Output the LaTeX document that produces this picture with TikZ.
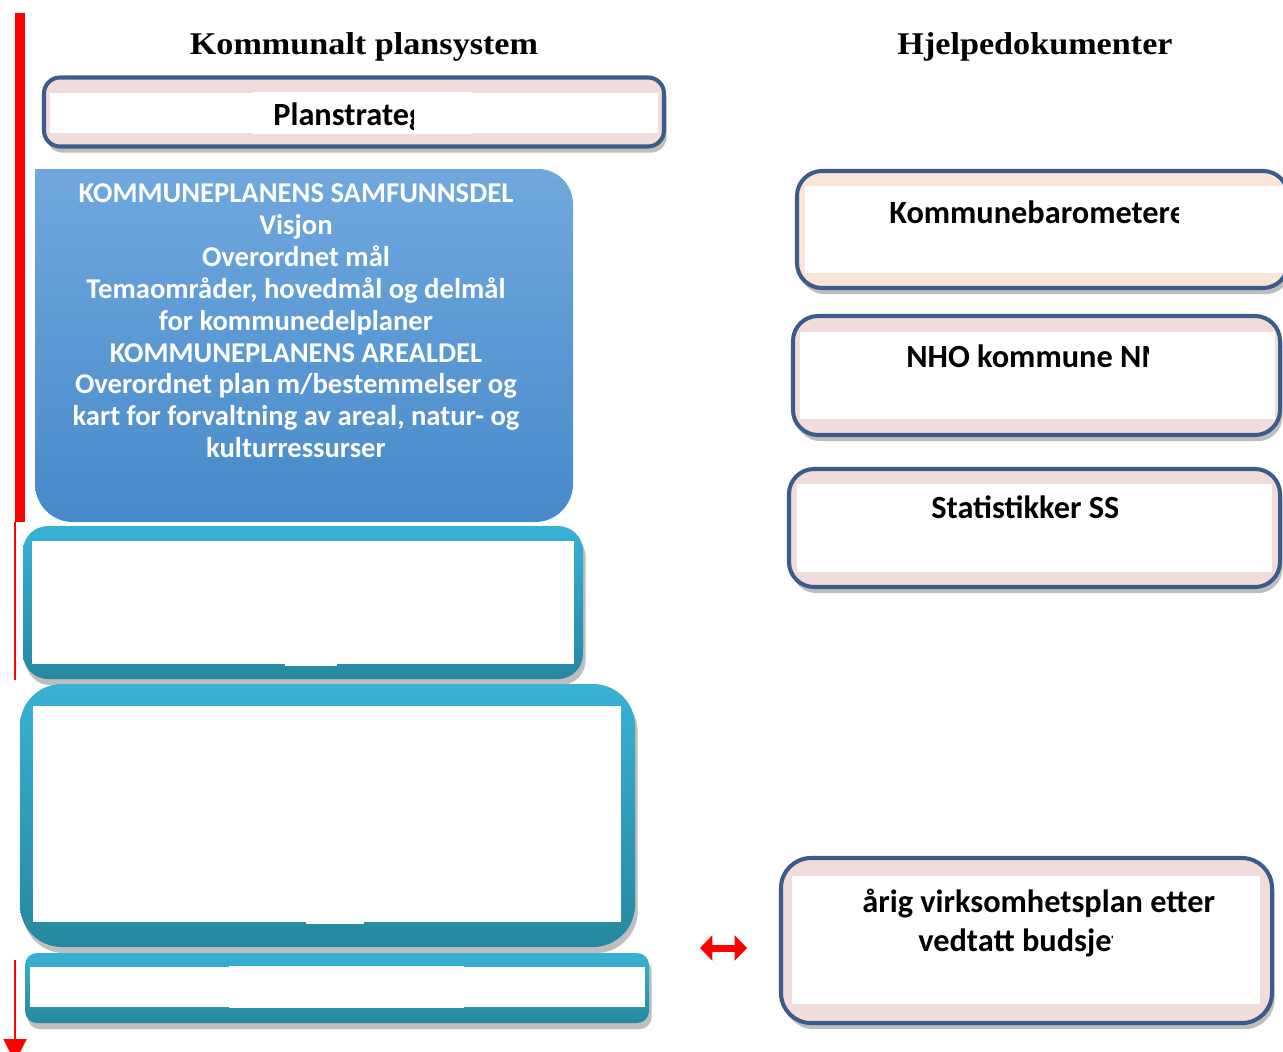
\documentclass[tikz,border=0pt]{standalone}
\usepackage{fontspec}
\newfontfamily\cfont{Carlito}
\newfontfamily\sfont{Liberation Serif}
\usetikzlibrary{shadows,arrows.meta}
\definecolor{bordblue}{RGB}{59,92,138}
\definecolor{pinkf}{RGB}{242,220,219}
\definecolor{peachf}{RGB}{251,229,214}
\definecolor{tealtop}{RGB}{56,178,214}
\definecolor{tealbot}{RGB}{38,136,160}
\definecolor{bluetop}{RGB}{112,168,222}
\definecolor{bluebot}{RGB}{70,138,202}
\definecolor{shadowgray}{RGB}{110,110,110}
\definecolor{redline}{RGB}{255,0,0}
\begin{document}
\begin{tikzpicture}[x=0.02cm,y=-0.02cm,
  shad/.style={drop shadow={shadow xshift=1.5pt,shadow yshift=-3.5pt,opacity=0.45,fill=shadowgray}},
  docbox/.style={shape=rectangle,draw=bordblue,line width=2.3pt,fill=pinkf,inner sep=0pt,outer sep=0pt,shad},
  tealbox/.style={shape=rectangle,top color=tealtop,bottom color=tealbot,draw=none,inner sep=0pt,outer sep=0pt,shad},
  whiteband/.style={fill=white},
  lbl/.style={font=\cfont\bfseries\fontsize{18.4}{22}\selectfont,inner sep=0pt,anchor=base west,text=black},
  titlelbl/.style={font=\sfont\bfseries\fontsize{18}{22}\selectfont,inner sep=0pt,anchor=base,xscale=1.08},
]
\useasboundingbox (0,0) rectangle (1283,1051);

% red time line
\fill[redline] (15,13) rectangle (25,522);
\coordinate (ra) at (15,522);
\coordinate (rb) at (15,680);
\draw[redline,line width=1.1pt] (ra) -- (rb);
\coordinate (rc) at (15,960);
\coordinate (rd) at (15,1062);
\draw[redline,line width=1.2pt,-{Triangle[width=13pt,length=13pt]}] (rc) -- (rd);

% titles
\node[titlelbl] (t1) at (364,55) {Kommunalt plansystem};
\node[titlelbl] (t2) at (1035,55) {Hjelpedokumenter};

% Planstrategi
\node[docbox,rounded corners=0.32cm,minimum width={620*0.02cm},minimum height={69*0.02cm}] (plan) at (354,112) {};
\fill[whiteband] (50,93) rectangle (658,133);
\fill[whiteband] (253,92) rectangle (472,134);
\begin{scope}
\clip (250,85) rectangle (413,140);
\node[lbl] (plantxt) at (273,125) {Planstrateg};
\end{scope}

% blue box
\shade[top color=bluetop,bottom color=bluebot] (35,169) -- (538,169) arc[start angle=-90,end angle=0,radius=35] -- (573,484) arc[start angle=0,end angle=90,radius=38] -- (73,522) arc[start angle=90,end angle=180,radius=38] -- cycle;
\node[font=\cfont\bfseries\fontsize{16.3}{18.2}\selectfont,text=white,align=center,anchor=north,inner sep=0pt] (samf) at (296,183)
 {KOMMUNEPLANENS SAMFUNNSDEL\\Visjon\\Overordnet mål\\Temaområder, hovedmål og delmål\\for kommunedelplaner\\KOMMUNEPLANENS AREALDEL\\Overordnet plan m/bestemmelser og\\kart for forvaltning av areal, natur- og\\kulturressurser};

% teal boxes
\node[tealbox,rounded corners=0.5cm,minimum width={560*0.02cm},minimum height={153*0.02cm}] (teal1) at (303,602.5) {};
\fill[whiteband] (32,541) rectangle (574,664);
\fill[whiteband] (285,662) rectangle (337,666);

\node[tealbox,rounded corners=0.84cm,minimum width={615*0.02cm},minimum height={263*0.02cm}] (teal2) at (327.5,815.5) {};
\fill[whiteband] (33,706) rectangle (621,922);
\fill[whiteband] (306,920) rectangle (364,924);

\node[tealbox,rounded corners=0.24cm,minimum width={624*0.02cm},minimum height={70*0.02cm}] (teal3) at (337,988) {};
\fill[whiteband] (30,967) rectangle (645,1007);
\fill[whiteband] (229,966) rectangle (464,1008);

% right boxes
\node[docbox,fill=peachf,rounded corners=0.5cm,minimum width={491*0.02cm},minimum height={117*0.02cm}] (kb) at (1042.5,229.5) {};
\fill[whiteband] (805,186) rectangle (1283,273);
\begin{scope}
\clip (880,190) rectangle (1178,270);
\node[lbl] (kbtxt) at (889,223) {Kommunebarometere};
\end{scope}

\node[docbox,rounded corners=0.5cm,minimum width={487*0.02cm},minimum height={119*0.02cm}] (nho) at (1036.5,375.5) {};
\fill[whiteband] (800,332) rectangle (1275,419);
\begin{scope}
\clip (890,335) rectangle (1148,415);
\node[lbl] (nhotxt) at (906,367) {NHO kommune NM};
\end{scope}

\node[docbox,rounded corners=0.5cm,minimum width={491*0.02cm},minimum height={118*0.02cm}] (stat) at (1034.5,528) {};
\fill[whiteband] (797,484) rectangle (1272,572);
\begin{scope}
\clip (900,488) rectangle (1117,568);
\node[lbl] (stattxt) at (931,518) {Statistikker SSB};
\end{scope}

\node[docbox,rounded corners=0.6cm,minimum width={491*0.02cm},minimum height={165*0.02cm}] (virk) at (1026.5,940.5) {};
\fill[whiteband] (792,876) rectangle (1260,1004);
\begin{scope}
\clip (840,878) rectangle (1250,917);
\node[lbl] (virk1) at (862,912) {årig virksomhetsplan etter};
\end{scope}
\begin{scope}
\clip (900,920) rectangle (1112,965);
\node[lbl] (virk2) at (918,951) {vedtatt budsjett};
\end{scope}

% red double arrow
\coordinate (dal) at (700,948);
\coordinate (dar) at (747,948);
\draw[redline,line width=4pt,{Triangle[width=14pt,length=7pt]}-{Triangle[width=14pt,length=7pt]}] (dal) -- (dar);
\end{tikzpicture}
\end{document}
